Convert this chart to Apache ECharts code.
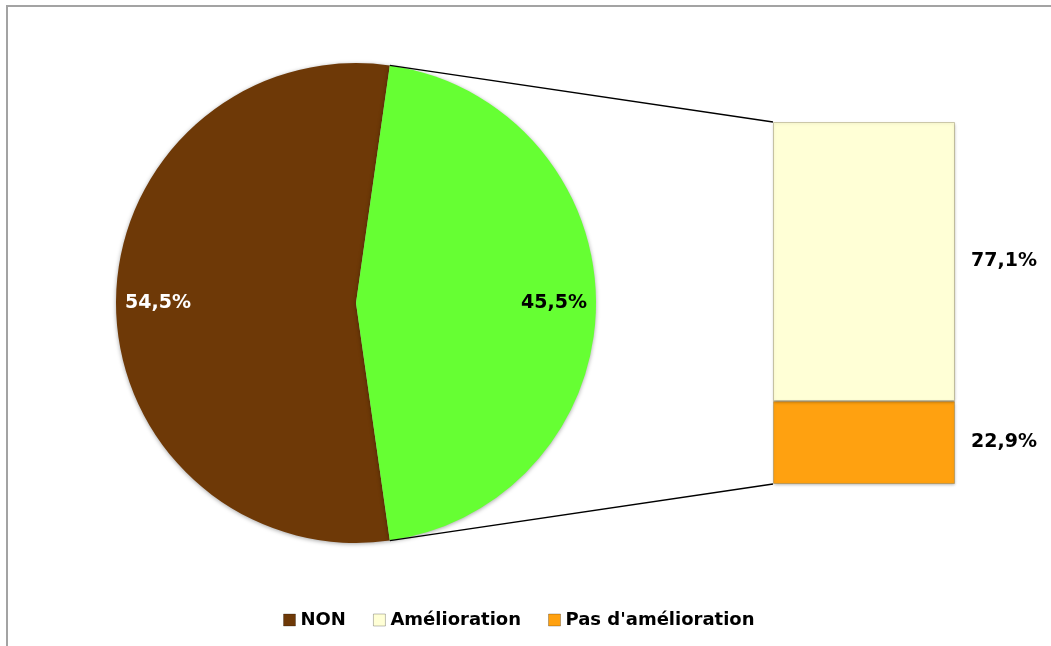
<!DOCTYPE html>
<html>
<head>
<meta charset="utf-8">
<script src="https://cdn.jsdelivr.net/npm/echarts@6/dist/echarts.min.js"></script>
<style>
html,body{margin:0;padding:0;background:#fff;}
#chart{width:1051px;height:646px;}
</style>
</head>
<body>
<div id="chart"></div>
<script>
// ---- data ----
const pieNames = ['NON', 'OUI'];
const pieValues = [54.5, 45.5];
const barCategories = ['OUI'];
const barNames = ["Pas d'amélioration", 'Amélioration'];
const barValues = [22.9, 77.1];
const legendNames = ['NON', 'Amélioration', "Pas d'amélioration"];

const fmt = v => v.toFixed(1).replace('.', ',') + '%';

const colors = {
  'NON': '#6E3907',
  'OUI': '#66FF33',
  'Amélioration': '#FFFFD6',
  "Pas d'amélioration": '#FFA110'
};

const pieCenter = [356, 303];
const pieRadius = 240;
const total = pieValues.reduce((a, b) => a + b, 0);
// second slice centred on 3 o'clock
const secondSpan = 360 * pieValues[1] / total;
const startAngle = secondSpan / 2 + 360 * pieValues[0] / total;

const labelFont = { fontFamily: 'DejaVu Sans', fontWeight: 'bold', fontSize: 19 };

const chart = echarts.init(document.getElementById('chart'), null, { renderer: 'canvas' });

const pieData = pieNames.map((n, i) => ({
  name: n, value: pieValues[i],
  itemStyle: { color: colors[n] }
}));

const option = {
  animation: false,
  backgroundColor: '#ffffff',
  legend: {
    data: legendNames.map(n => ({ name: n, itemStyle: { color: colors[n], borderColor: 'rgba(0,0,0,0.25)', borderWidth: 1 } })),
    left: 278, top: 606,
    itemWidth: 12, itemHeight: 12, itemGap: 27,
    icon: 'rect',
    textStyle: { color: '#000', fontFamily: 'DejaVu Sans', fontWeight: 'bold', fontSize: 18 }
  },
  grid: { left: 773, width: 182, top: 122, height: 362, containLabel: false },
  xAxis: { type: 'category', data: barCategories, show: false },
  yAxis: { type: 'value', min: 0, max: 100, show: false },
  series: [
    {
      type: 'pie', name: 'pie',
      center: pieCenter, radius: [0, pieRadius],
      startAngle: startAngle, clockwise: true,
      data: pieData,
      label: { show: false }, labelLine: { show: false },
      itemStyle: { borderWidth: 0, shadowColor: 'rgba(0,0,0,0.35)', shadowBlur: 4, shadowOffsetY: 1 },
      emphasis: { disabled: true }
    },
    {
      type: 'pie', name: 'pieLabels', silent: true,
      center: pieCenter, radius: [150, pieRadius],
      startAngle: startAngle, clockwise: true,
      data: pieNames.map((n, i) => ({
        name: n, value: pieValues[i],
        label: { color: i === 0 ? '#ffffff' : '#000000' }
      })),
      itemStyle: { color: 'rgba(0,0,0,0)' },
      label: Object.assign({ show: true, position: 'inside', formatter: p => fmt(p.value) }, labelFont),
      labelLine: { show: false },
      emphasis: { disabled: true }
    },
    ...barNames.map((n, i) => ({
      type: 'bar', name: n, stack: 'total',
      barWidth: '100%',
      data: [barValues[i]],
      itemStyle: { color: colors[n], borderColor: 'rgba(120,110,60,0.35)', borderWidth: 1,
        shadowColor: 'rgba(0,0,0,0.3)', shadowBlur: 3, shadowOffsetY: 1 },
      label: Object.assign({ show: true, position: 'right', distance: 16, color: '#000', formatter: p => fmt(p.value) }, labelFont),
      emphasis: { disabled: true }
    }))
  ]
};
chart.setOption(option);

// connector lines from pie split points to bar corners
function drawConnectors() {
  const a1 = (startAngle - 360 * pieValues[0] / total) * Math.PI / 180;
  const a2 = (startAngle - 360 * (pieValues[0] + pieValues[1]) / total) * Math.PI / 180 + 2 * Math.PI;
  const p1 = [pieCenter[0] + pieRadius * Math.cos(a1), pieCenter[1] - pieRadius * Math.sin(a1)];
  const p2 = [pieCenter[0] + pieRadius * Math.cos(a2), pieCenter[1] - pieRadius * Math.sin(a2)];
  const sum = barValues.reduce((a, b) => a + b, 0);
  const topPt = chart.convertToPixel({ gridIndex: 0 }, [0, sum]);
  const botPt = chart.convertToPixel({ gridIndex: 0 }, [0, 0]);
  const gridLeft = option.grid.left;
  chart.setOption({
    graphic: [
      { type: 'rect', shape: { x: 7, y: 6, width: 1200, height: 800 }, style: { fill: null, stroke: '#A3A3A3', lineWidth: 2 }, silent: true },
      { type: 'line', shape: { x1: p1[0], y1: p1[1], x2: gridLeft, y2: topPt[1] }, style: { stroke: '#000', lineWidth: 1.4 }, silent: true, z: 10 },
      { type: 'line', shape: { x1: p2[0], y1: p2[1], x2: gridLeft, y2: botPt[1] }, style: { stroke: '#000', lineWidth: 1.4 }, silent: true, z: 10 }
    ]
  });
}
drawConnectors();
</script>
</body>
</html>
